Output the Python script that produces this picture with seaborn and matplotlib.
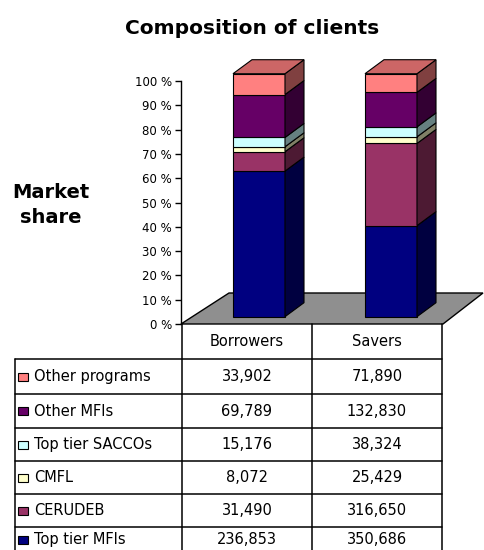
import numpy as np
import matplotlib
matplotlib.use("Agg")
import matplotlib.pyplot as plt
from matplotlib.patches import Polygon, Rectangle
from matplotlib.colors import to_rgb
import seaborn as sns

# data (bottom segment first)
groups = ["Borrowers", "Savers"]
segments = ["Top tier MFIs", "CERUDEB", "CMFL", "Top tier SACCOs", "Other MFIs", "Other programs"]
borrowers = [236853, 31490, 8072, 15176, 69789, 33902]
savers = [350686, 316650, 25429, 38324, 132830, 71890]
colors = ["#000080", "#993366", "#FFFFCC", "#CCFFFF", "#660066", "#FF8080"]
yticks = [0, 10, 20, 30, 40, 50, 60, 70, 80, 90, 100]


def shade(c, f):
    r, g, b = to_rgb(c)
    return (r * f, g * f, b * f)


sns.set_style("white")
plt.rcParams["font.family"] = ["DejaVu Sans"]
plt.rcParams["text.color"] = "black"
plt.rcParams["ytick.color"] = "black"
plt.rcParams["ytick.labelcolor"] = "black"

W, H = 484, 550
fig = plt.figure(figsize=(W / 100, H / 100), dpi=100)

# pixel layout of the plot area
y0_px, px_per_pct = 324, 2.43
x0_px, px_per_cat = 259, 132
ax_left, ax_top = 181, 55
ax = fig.add_axes([ax_left / W, 1 - y0_px / H, (W - ax_left) / W, (y0_px - ax_top) / H])
ax.patch.set_alpha(0)


def fx(px):
    return (px - x0_px) / px_per_cat


def fy(py):
    return (y0_px - py) / px_per_pct


# gray floor
floor = Polygon([(fx(181), fy(324)), (fx(443), fy(324)), (fx(483), fy(293)), (fx(229), fy(293))],
                closed=True, facecolor="#8f8f8f", edgecolor="black", lw=1, zorder=0.5, clip_on=False)
ax.add_patch(floor)

vals = np.array([borrowers, savers], dtype=float).T
pct = vals / vals.sum(axis=0) * 100
lift = 3.0
bottoms = np.vstack([np.zeros(2), np.cumsum(pct, axis=0)[:-1]]) + lift
bw = 0.394
dx, dy = 19 / px_per_cat, 14 / px_per_pct

for i, seg in enumerate(segments):
    sns.barplot(x=groups, y=pct[i], bottom=bottoms[i], order=groups, color=colors[i],
                saturation=1, width=bw, errorbar=None, edgecolor="black", linewidth=0.8,
                ax=ax, zorder=2)
    for j in range(len(groups)):
        x1 = j + bw / 2
        b, t = bottoms[i][j], bottoms[i][j] + pct[i][j]
        side = Polygon([(x1, b), (x1 + dx, b + dy), (x1 + dx, t + dy), (x1, t)], closed=True,
                       facecolor=shade(colors[i], 0.5), edgecolor="black", lw=0.8, zorder=2)
        ax.add_patch(side)
        if i == len(segments) - 1:
            x0 = j - bw / 2
            top = Polygon([(x0, t), (x1, t), (x1 + dx, t + dy), (x0 + dx, t + dy)], closed=True,
                          facecolor=shade(colors[i], 0.8), edgecolor="black", lw=0.8, zorder=2)
            ax.add_patch(top)

ax.set_xlim(fx(ax_left), fx(W))
ax.set_ylim(0, fy(ax_top))
ax.set_xticks([])
ax.set_xlabel("")
ax.set_ylabel("")
for s in ["top", "right", "bottom"]:
    ax.spines[s].set_visible(False)
ax.spines["left"].set_bounds(0, 100)
ax.spines["left"].set_color("black")
ax.spines["left"].set_linewidth(1)
ax.set_yticks(yticks)
ax.set_yticklabels([f"{t} %" for t in yticks])
ax.tick_params(axis="y", direction="out", length=4, width=1, color="black", pad=2.5,
               labelsize=8.5, labelcolor="black", left=True)

# overlay in pixel coords for title and data table
tab = fig.add_axes([0, 0, 1, 1])
tab.set_xlim(0, W)
tab.set_ylim(H, 0)
tab.axis("off")
tab.patch.set_alpha(0)

tab.text(252, 28, "Composition of clients", ha="center", va="center", fontsize=14.5, weight="bold")
tab.text(51, 205, "Market\nshare", ha="center", va="center", fontsize=14, weight="bold",
         linespacing=1.45)

col_x = [181.5, 312, 442]
row_y = [359, 394, 428, 461, 494, 527, 562]
lw = 1.1
for x in col_x:
    tab.plot([x, x], [324, 562], color="black", lw=lw, clip_on=False)
tab.plot([15, 15], [359, 562], color="black", lw=lw, clip_on=False)
for y in row_y:
    tab.plot([15, 442], [y, y], color="black", lw=lw, clip_on=False)

centers = [247, 377]
for j, g in enumerate(groups):
    tab.text(centers[j], 341.5, g, ha="center", va="center", fontsize=10.5)

for r, i in enumerate(range(len(segments) - 1, -1, -1)):
    yc = (row_y[r] + row_y[r + 1]) / 2
    if r == len(segments) - 1:
        yc = 539.5  # last row is cut by the figure edge, keep its text inside
    tab.add_patch(Rectangle((18, yc - 4), 10, 8, facecolor=colors[i], edgecolor="black", lw=0.8))
    tab.text(34, yc, segments[i], ha="left", va="center", fontsize=10.5)
    tab.text(centers[0], yc, f"{borrowers[i]:,}", ha="center", va="center", fontsize=10.5)
    tab.text(centers[1], yc, f"{savers[i]:,}", ha="center", va="center", fontsize=10.5)

fig.savefig("out.png", dpi=100)
